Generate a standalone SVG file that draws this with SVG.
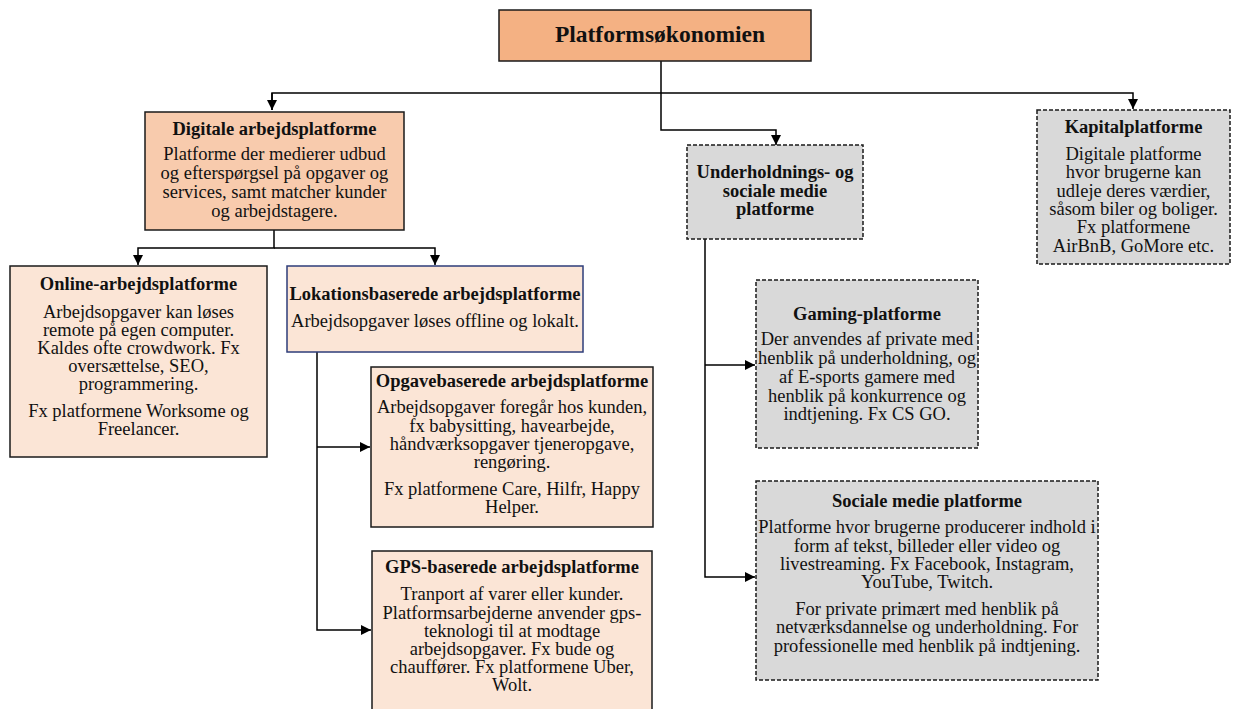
<svg xmlns="http://www.w3.org/2000/svg" width="1236" height="709" viewBox="0 0 1236 709">
<style>
.b{stroke:#1a1a1a;stroke-width:1.5}
.d{stroke:#1a1a1a;stroke-width:1.5;stroke-dasharray:4 2;fill:#d9d9d9}
.t{font-family:"Liberation Serif","Times New Roman",serif;font-size:18.5px;fill:#111;text-anchor:middle}
.h{font-weight:bold}
.c{fill:none;stroke:#000;stroke-width:1.5}
</style>
<defs>
<marker id="a" markerUnits="userSpaceOnUse" markerWidth="12" markerHeight="12" refX="10" refY="5" orient="auto">
<path d="M0,0 L10,5 L0,10 Z" fill="#000"/>
</marker>
</defs>
<rect width="1236" height="709" fill="#fff"/>
<g id="connectors">
<path class="c" d="M661,61 V130 H776 V145" marker-end="url(#a)"/>
<path class="c" d="M272,110 V93 H1133 V109" marker-end="url(#a)"/>
<path class="c" d="M272,93 V110" marker-end="url(#a)"/>
<path class="c" d="M274,230 V248 H138 V265" marker-end="url(#a)"/>
<path class="c" d="M274,248 H435 V265" marker-end="url(#a)"/>
<path class="c" d="M317,352 V630 H371" marker-end="url(#a)"/>
<path class="c" d="M317,447 H370" marker-end="url(#a)"/>
<path class="c" d="M705,239 V577 H755" marker-end="url(#a)"/>
<path class="c" d="M705,365 H755" marker-end="url(#a)"/>
</g>
<g id="n-root">
<rect class="b" x="499" y="10" width="312" height="51" fill="#f4b183"/>
<text class="t h" x="660" y="42" style="font-size:23.5px">Platformsøkonomien</text>
</g>
<g id="n-digitale">
<rect class="b" x="145" y="112" width="259" height="118" fill="#f8cbad"/>
<text class="t h" x="274.5" y="135">Digitale arbejdsplatforme</text>
<text class="t" x="274.5" y="160">Platforme der medierer udbud</text>
<text class="t" x="274.5" y="179">og efterspørgsel på opgaver og</text>
<text class="t" x="274.5" y="198">services, samt matcher kunder</text>
<text class="t" x="274.5" y="217">og arbejdstagere.</text>
</g>
<g id="n-online">
<rect class="b" x="10" y="266" width="257" height="191" fill="#fbe5d6"/>
<text class="t h" x="138.5" y="290">Online-arbejdsplatforme</text>
<text class="t" x="138.5" y="318">Arbejdsopgaver kan løses</text>
<text class="t" x="138.5" y="336">remote på egen computer.</text>
<text class="t" x="138.5" y="354">Kaldes ofte crowdwork. Fx</text>
<text class="t" x="138.5" y="372">oversættelse, SEO,</text>
<text class="t" x="138.5" y="390">programmering.</text>
<text class="t" x="138.5" y="417">Fx platformene Worksome og</text>
<text class="t" x="138.5" y="435">Freelancer.</text>
</g>
<g id="n-lokation">
<rect x="287" y="266" width="296" height="86" fill="#fbe5d6" stroke="#2e3d7a" stroke-width="1.5"/>
<text class="t h" x="435" y="300">Lokationsbaserede arbejdsplatforme</text>
<text class="t" x="435" y="327">Arbejdsopgaver løses offline og lokalt.</text>
</g>
<g id="n-opgave">
<rect class="b" x="371" y="367" width="282" height="160" fill="#fbe5d6"/>
<text class="t h" x="512" y="387">Opgavebaserede arbejdsplatforme</text>
<text class="t" x="512" y="413">Arbejdsopgaver foregår hos kunden,</text>
<text class="t" x="512" y="432">fx babysitting, havearbejde,</text>
<text class="t" x="512" y="450">håndværksopgaver tjeneropgave,</text>
<text class="t" x="512" y="468">rengøring.</text>
<text class="t" x="512" y="495">Fx platformene Care, Hilfr, Happy</text>
<text class="t" x="512" y="513">Helper.</text>
</g>
<g id="n-gps">
<rect class="b" x="372" y="551" width="280" height="170" fill="#fbe5d6"/>
<text class="t h" x="512" y="573">GPS-baserede arbejdsplatforme</text>
<text class="t" x="512" y="600">Tranport af varer eller kunder.</text>
<text class="t" x="512" y="619">Platformsarbejderne anvender gps-</text>
<text class="t" x="512" y="637">teknologi til at modtage</text>
<text class="t" x="512" y="655">arbejdsopgaver. Fx bude og</text>
<text class="t" x="512" y="673">chauffører. Fx platformene Uber,</text>
<text class="t" x="512" y="691">Wolt.</text>
</g>
<g id="n-underholdning">
<rect class="d" x="687" y="145" width="176" height="94"/>
<text class="t h" x="775" y="178">Underholdnings- og</text>
<text class="t h" x="775" y="197">sociale medie</text>
<text class="t h" x="775" y="215">platforme</text>
</g>
<g id="n-kapital">
<rect class="d" x="1037" y="110" width="193" height="154"/>
<text class="t h" x="1133.5" y="133">Kapitalplatforme</text>
<text class="t" x="1133.5" y="160">Digitale platforme</text>
<text class="t" x="1133.5" y="178">hvor brugerne kan</text>
<text class="t" x="1133.5" y="197">udleje deres værdier,</text>
<text class="t" x="1133.5" y="215">såsom biler og boliger.</text>
<text class="t" x="1133.5" y="233">Fx platformene</text>
<text class="t" x="1133.5" y="252">AirBnB, GoMore etc.</text>
</g>
<g id="n-gaming">
<rect class="d" x="756" y="280" width="222" height="168"/>
<text class="t h" x="867" y="320">Gaming-platforme</text>
<text class="t" x="867" y="345">Der anvendes af private med</text>
<text class="t" x="867" y="364">henblik på underholdning, og</text>
<text class="t" x="867" y="383">af E-sports gamere med</text>
<text class="t" x="867" y="402">henblik på konkurrence og</text>
<text class="t" x="867" y="420">indtjening. Fx CS GO.</text>
</g>
<g id="n-social">
<rect class="d" x="756" y="481" width="342" height="199"/>
<text class="t h" x="927" y="507">Sociale medie platforme</text>
<text class="t" x="927" y="533">Platforme hvor brugerne producerer indhold i</text>
<text class="t" x="927" y="552">form af tekst, billeder eller video og</text>
<text class="t" x="927" y="570">livestreaming. Fx Facebook, Instagram,</text>
<text class="t" x="927" y="588">YouTube, Twitch.</text>
<text class="t" x="927" y="615">For private primært med henblik på</text>
<text class="t" x="927" y="633">netværksdannelse og underholdning. For</text>
<text class="t" x="927" y="652">professionelle med henblik på indtjening.</text>
</g>
</svg>
